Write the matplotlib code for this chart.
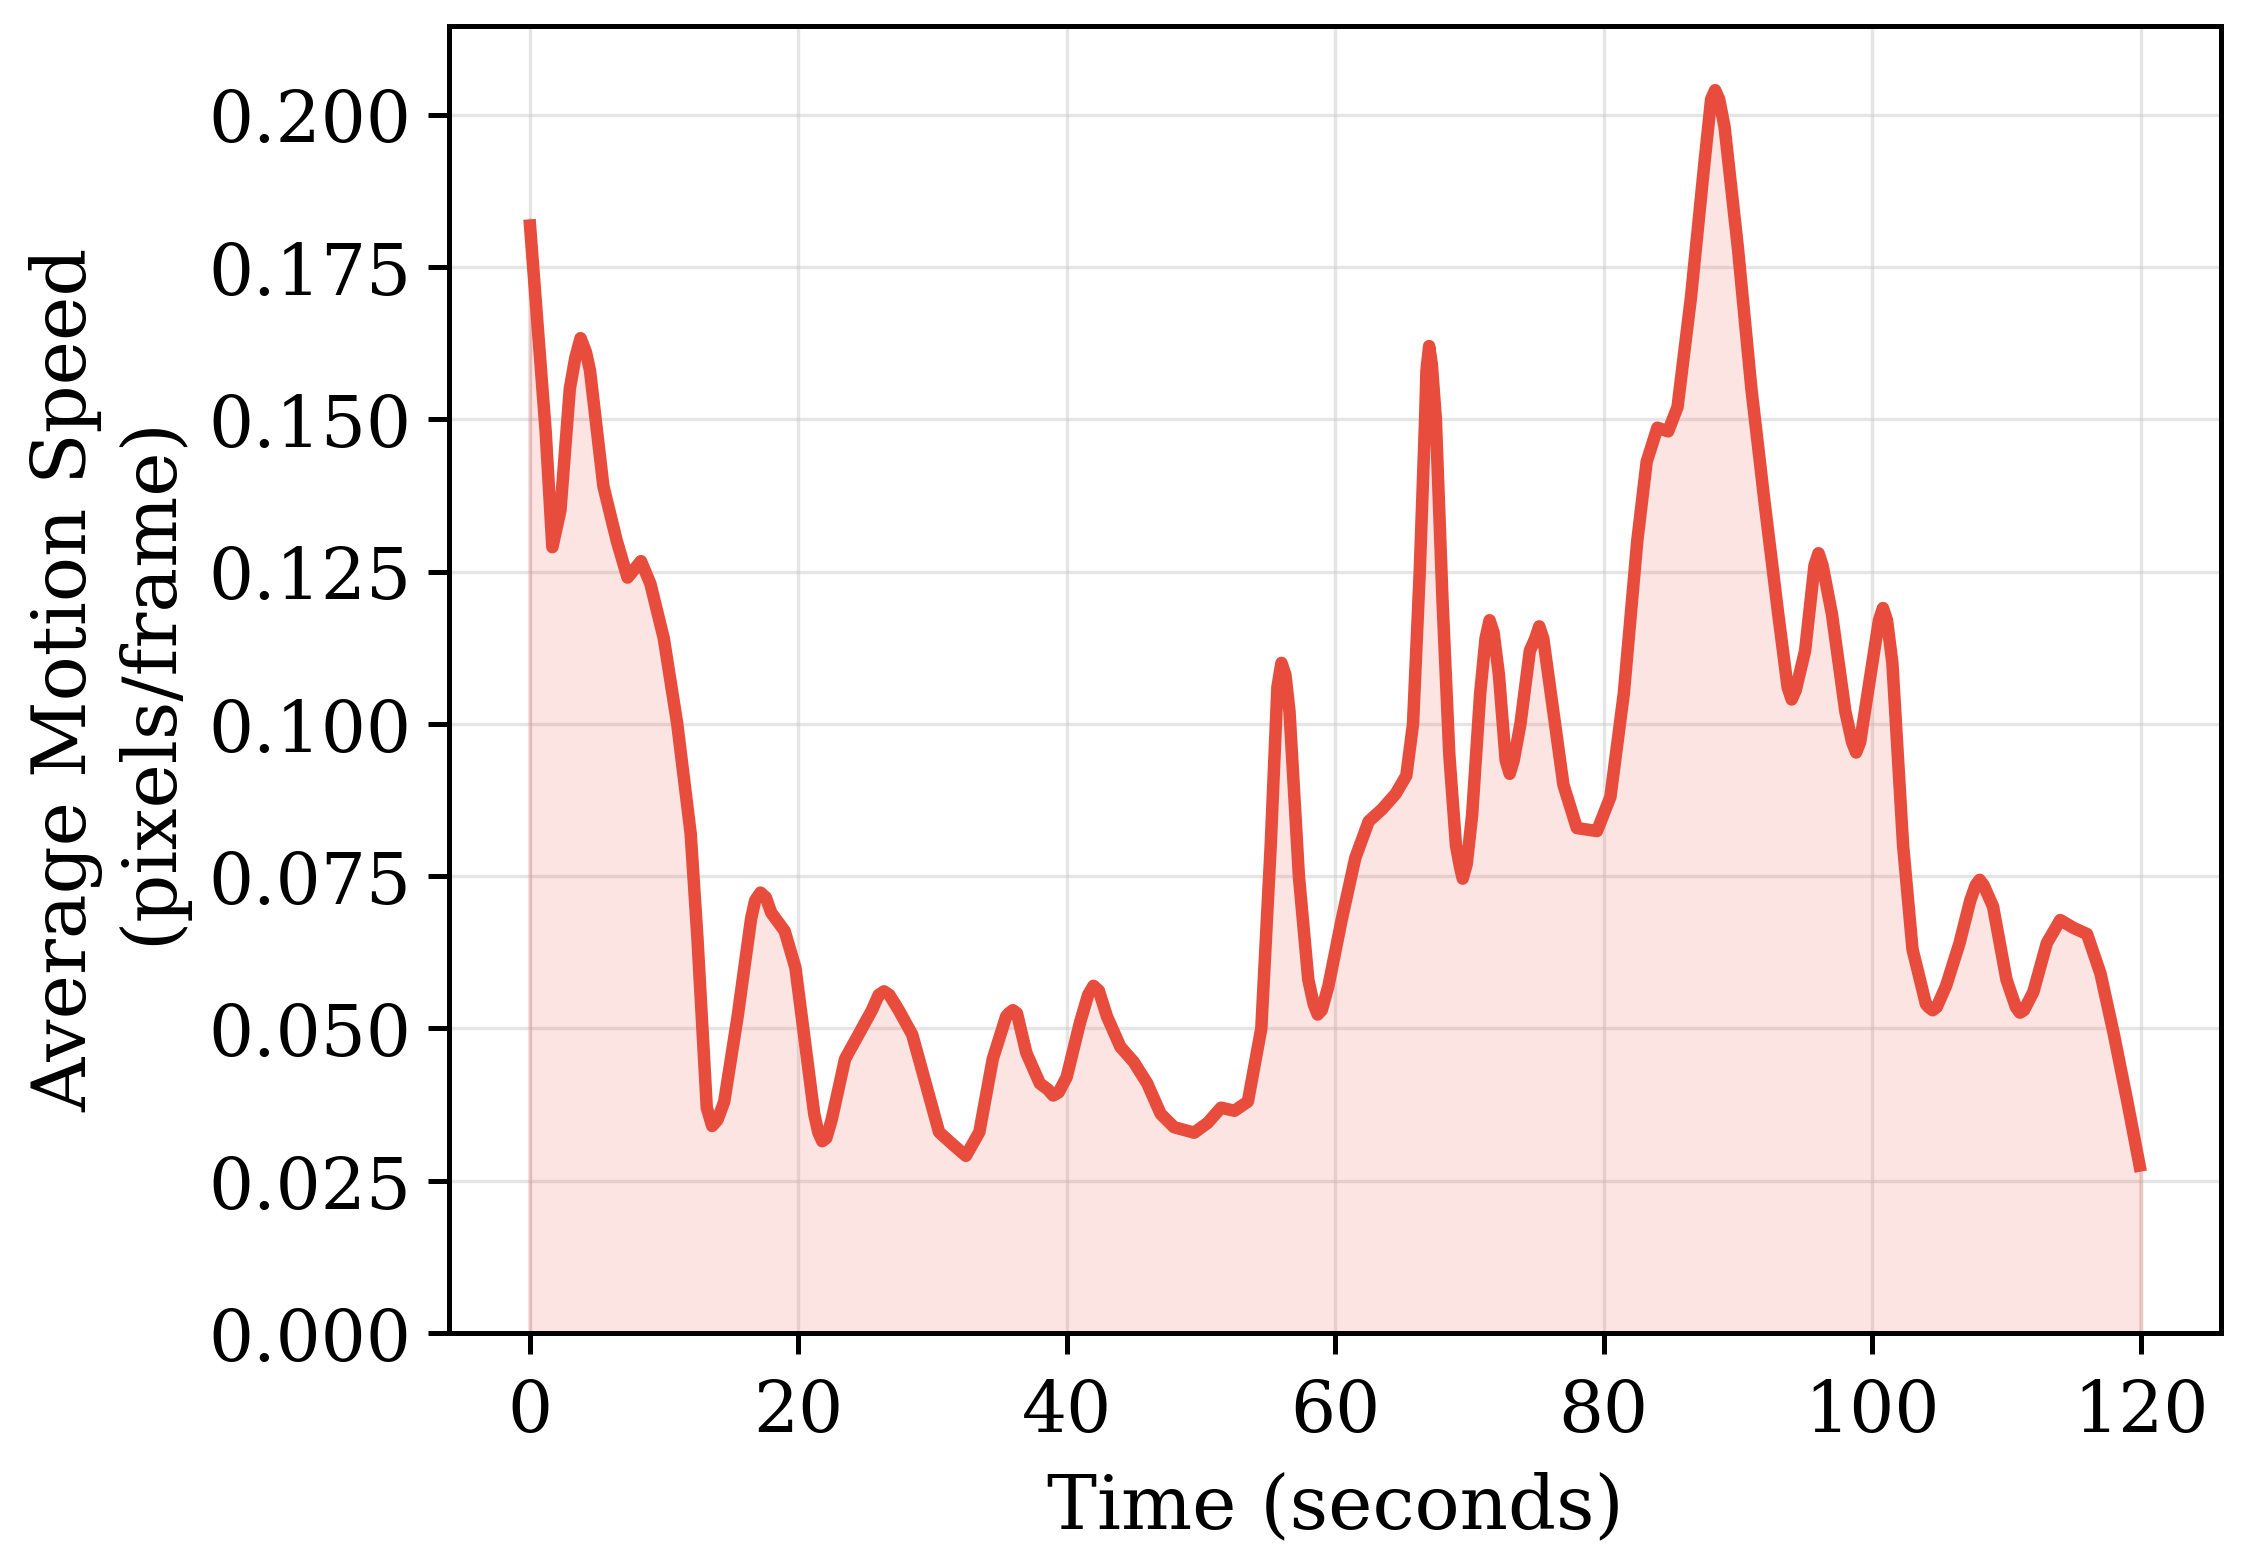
import numpy as np
import matplotlib.pyplot as plt

# values
time_s = [0, 1.2, 1.7, 2.3, 3.0, 3.8, 4.5, 5.5, 6.5, 7.3, 8.3, 9.0, 10.0, 11.0,
          12.0, 12.5, 13.0, 13.6, 14.5, 15.5, 16.5, 17.2, 18.0, 19.0, 19.8, 20.5,
          21.2, 21.8, 22.5, 23.5, 24.5, 25.5, 26.4, 27.5, 28.5, 29.5, 30.5, 31.5,
          32.5, 33.5, 34.5, 35.5, 36.0, 37.0, 38.0, 39.0, 40.0, 41.0, 42.0, 43.0,
          44.0, 45.0, 46.0, 47.0, 48.0, 49.5, 50.5, 51.5, 52.5, 53.5, 54.5, 55.2,
          56.0, 56.6, 57.3, 58.0, 58.7, 59.5, 60.5, 61.5, 62.5, 63.5, 64.5, 65.3,
          65.8, 66.3, 66.7, 67.0, 67.5, 68.0, 68.5, 69.0, 69.5, 70.2, 70.8, 71.5,
          72.2, 73.0, 73.8, 74.5, 75.2, 76.0, 77.0, 78.0, 79.5, 80.5, 81.5, 82.5,
          83.2, 84.0, 84.8, 85.5, 86.5, 87.5, 88.3, 89.0, 90.0, 91.0, 92.0, 93.0,
          94.0, 95.0, 96.0, 97.0, 98.0, 98.8, 99.8, 100.8, 101.5, 102.3, 103.0,
          104.0, 104.5, 105.5, 106.5, 107.3, 108.0, 109.0, 110.0, 111.0, 112.0,
          113.0, 114.0, 115.0, 116.0, 117.0, 118.0, 119.0, 120.0]
speed = [0.1828, 0.148, 0.129, 0.135, 0.155, 0.1633, 0.158, 0.139, 0.130, 0.124,
         0.1267, 0.123, 0.114, 0.100, 0.082, 0.065, 0.045, 0.034, 0.038, 0.052,
         0.068, 0.0723, 0.069, 0.066, 0.060, 0.048, 0.036, 0.0315, 0.035, 0.045,
         0.049, 0.053, 0.0561, 0.053, 0.049, 0.041, 0.033, 0.031, 0.0291, 0.033,
         0.045, 0.052, 0.053, 0.046, 0.041, 0.039, 0.042, 0.051, 0.057, 0.052,
         0.047, 0.0445, 0.041, 0.036, 0.0338, 0.0329, 0.0345, 0.037, 0.0365,
         0.038, 0.050, 0.080, 0.110, 0.102, 0.075, 0.058, 0.0523, 0.057, 0.068,
         0.078, 0.084, 0.086, 0.0885, 0.0915, 0.100, 0.125, 0.150, 0.162, 0.150,
         0.120, 0.095, 0.080, 0.0746, 0.085, 0.105, 0.117, 0.108, 0.0918, 0.100,
         0.112, 0.116, 0.106, 0.090, 0.0829, 0.0824, 0.088, 0.105, 0.130, 0.143,
         0.1486, 0.148, 0.152, 0.170, 0.192, 0.204, 0.198, 0.178, 0.155, 0.136,
         0.118, 0.104, 0.112, 0.128, 0.118, 0.102, 0.0953, 0.107, 0.119, 0.110,
         0.080, 0.063, 0.054, 0.053, 0.057, 0.064, 0.071, 0.0744, 0.070, 0.058,
         0.0526, 0.056, 0.064, 0.0678, 0.0665, 0.0655, 0.059, 0.049, 0.038, 0.0265]

# extra readings around the rounded peaks and dips
extra_time = [3.4, 4.2, 13.2, 14.0, 16.8, 17.6, 21.5, 22.1, 26.0, 26.8,
              35.7, 36.3, 38.6, 39.4, 41.6, 42.4, 55.7, 56.3, 58.4, 59.0,
              66.8, 67.2, 69.3, 69.8, 71.2, 71.8, 72.7, 73.3, 74.9, 75.5,
              88.0, 88.6, 93.7, 94.3, 95.7, 96.3, 98.5, 99.1, 100.5, 101.1,
              104.2, 104.8, 107.7, 108.3, 110.7, 111.3]
extra_speed = [0.160, 0.161, 0.037, 0.035, 0.071, 0.0715, 0.033, 0.032, 0.0555, 0.0555,
               0.0525, 0.0525, 0.040, 0.0395, 0.0555, 0.0562, 0.106, 0.108, 0.054, 0.053,
               0.158, 0.159, 0.0765, 0.077, 0.114, 0.115, 0.094, 0.094, 0.114, 0.114,
               0.2025, 0.2025, 0.106, 0.1055, 0.126, 0.126, 0.097, 0.097, 0.117, 0.117,
               0.0535, 0.0535, 0.0735, 0.0735, 0.0535, 0.053]

t_all = np.array(time_s + extra_time)
v_all = np.array(speed + extra_speed)
order = np.argsort(t_all)
t_all = t_all[order]
v_all = v_all[order]

plt.rcParams['font.family'] = 'DejaVu Serif'

fig, ax = plt.subplots(figsize=(7.483, 5.193), dpi=300)
fig.subplots_adjust(left=0.200, right=0.9895, top=0.983, bottom=0.1437)

line_color = '#E74C3C'
ax.plot(t_all, v_all, color=line_color, linewidth=3.0,
        solid_joinstyle='round', solid_capstyle='butt')
ax.fill_between(t_all, v_all, color=line_color, alpha=0.15)

ax.set_xlim(-6, 126)
ax.set_ylim(0, 0.2146)
ax.set_yticks(np.arange(0, 0.201, 0.025))
ax.set_xticks(np.arange(0, 121, 20))

ax.set_xlabel('Time (seconds)', fontsize=18, labelpad=6)
ax.set_ylabel('Average Motion Speed\n(pixels/frame)', fontsize=18, labelpad=5)
ax.tick_params(labelsize=17, width=1.2, length=5)
ax.tick_params(axis='x', pad=5.5)
ax.tick_params(axis='y', pad=4)
for s in ax.spines.values():
    s.set_linewidth(1.2)
ax.grid(True, color='#cccccc', alpha=0.5, linewidth=0.8)
ax.set_axisbelow(True)

fig.savefig('out.png', dpi=300)
